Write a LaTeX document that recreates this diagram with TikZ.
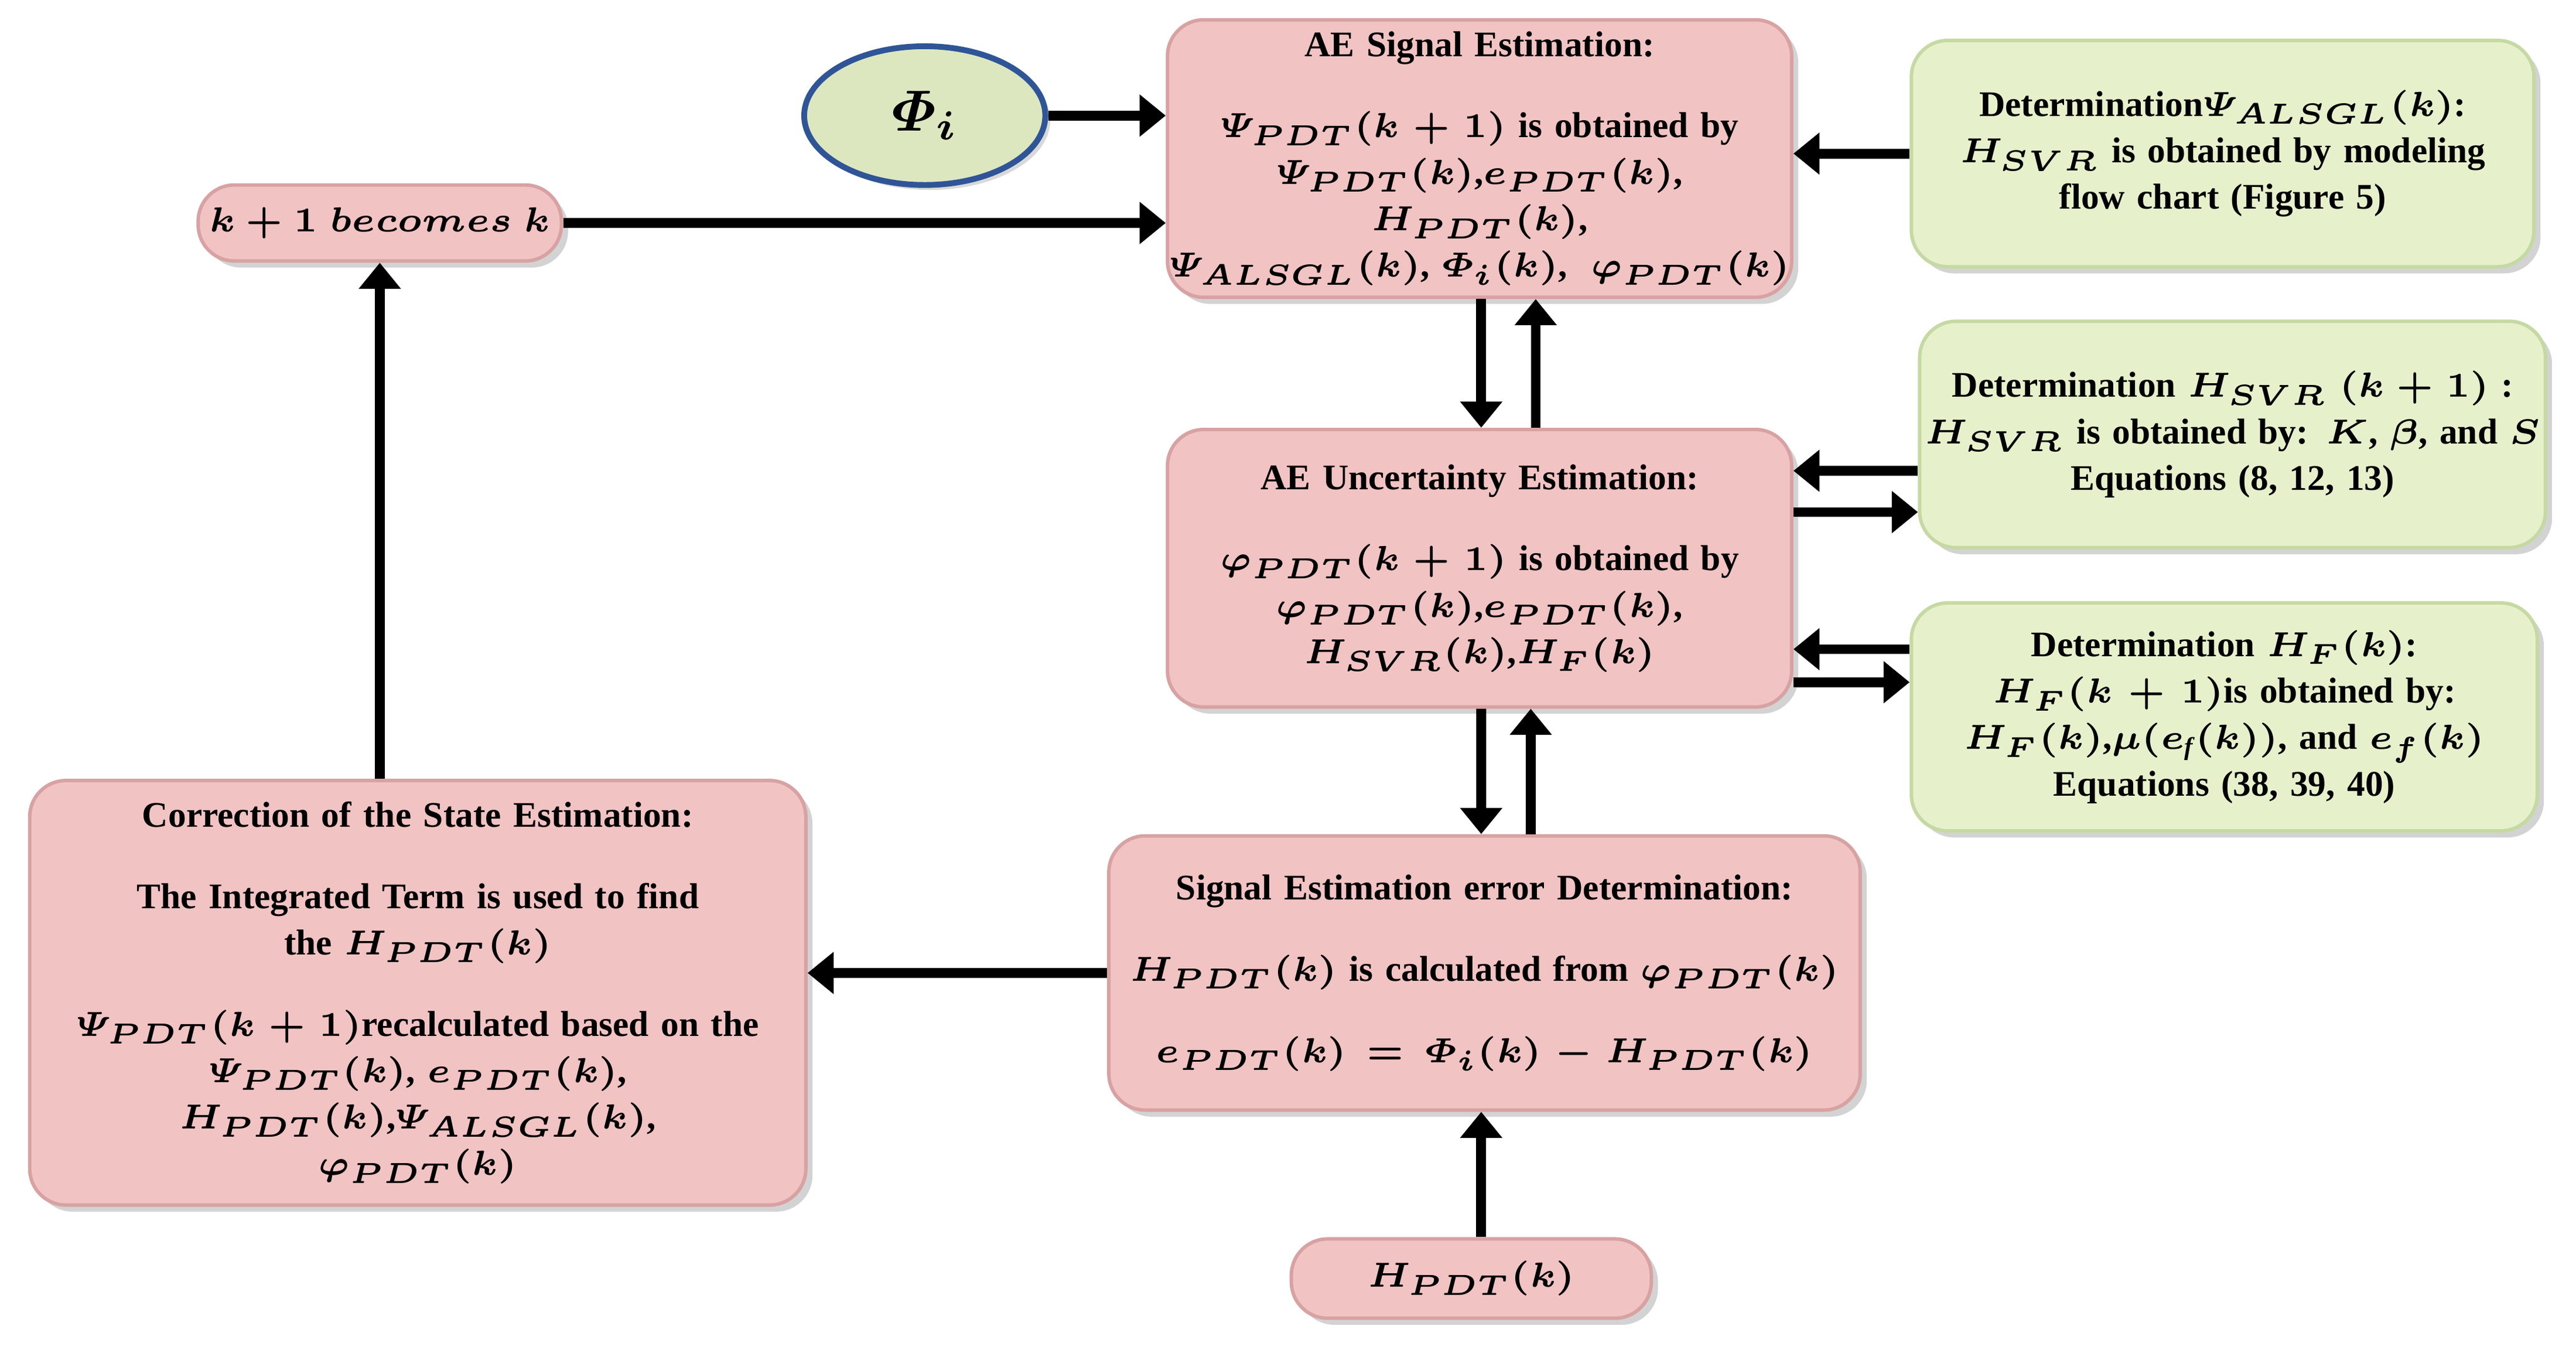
\documentclass[tikz,border=0pt]{standalone}
\usepackage{amsmath,bm}
\usepackage{fontspec}
\setmainfont{Liberation Serif}
\usetikzlibrary{shadows,arrows.meta,calc,shapes.geometric}
\definecolor{pinkf}{HTML}{F2C3C3}
\definecolor{pinkd}{HTML}{D8A2A2}
\definecolor{greenf}{HTML}{E6F1CC}
\definecolor{greend}{HTML}{C6D9A3}
\definecolor{ellf}{HTML}{DCE7C0}
\definecolor{elld}{HTML}{2F5597}
\newcommand{\bb}[1]{\bm{#1}}
\begin{document}
\begin{tikzpicture}[
 box/.style={rectangle,rounded corners=0.22cm,draw=#1d,fill=#1f,line width=0.6pt,
   drop shadow={shadow xshift=0.04cm,shadow yshift=-0.04cm,opacity=0.35},
   align=center,font=\fontsize{6.2}{8}\selectfont\bfseries,inner sep=0pt},
 arr/.style={line width=1.7pt,-{Triangle[length=4.5pt,width=7pt]}}]
\useasboundingbox (0,0) rectangle (15.6,8.17);
\node[ellipse,draw=elld,fill=ellf,line width=1pt,minimum width=1.46cm,minimum height=0.84cm,
  drop shadow={shadow xshift=0.03cm,shadow yshift=-0.03cm,opacity=0.3}] (ell) at (5.60,7.47) {$\bb{\varPhi_i}$};
\node[box=pink,text width=3.78cm,minimum height=1.68cm] (sig) at (8.96,7.21)
 {AE Signal Estimation:\\[6pt]
 $\bb{\varPsi}_{\bb{PDT}}\bb{(k+1)}$ is obtained by\\
 $\bb{\varPsi}_{\bb{PDT}}\bb{(k)}$,$\bb{e}_{\bb{PDT}}\bb{(k)}$, $\bb{H}_{\bb{PDT}}\bb{(k)}$,\\
 $\bb{\varPsi}_{\bb{ALSGL}}\bb{(k)}$, $\bb{\varPhi}_{\bb{i}}\bb{(k)}$, \ $\bb{\varphi}_{\bb{PDT}}\bb{(k)}$};
\node[box=green,text width=3.77cm,minimum height=1.37cm] (psi) at (13.46,7.24)
 {Determination$\bb{\varPsi}_{\bb{ALSGL}}\bb{(k)}$:\\
 $\bb{H}_{\bb{SVR}}$ is obtained by modeling\\ flow chart (Figure 5)};
\node[box=pink,text width=2.2cm,minimum height=0.46cm] (kk) at (2.30,6.82)
 {$\bb{k+1}$ $\bb{becomes}$ $\bb{k}$};
\node[box=pink,text width=3.78cm,minimum height=1.68cm] (unc) at (8.96,4.73)
 {AE Uncertainty Estimation:\\[6pt]
 $\bb{\varphi}_{\bb{PDT}}\bb{(k+1)}$ is obtained by\\
 $\bb{\varphi}_{\bb{PDT}}\bb{(k)}$,$\bb{e}_{\bb{PDT}}\bb{(k)}$, $\bb{H}_{\bb{SVR}}\bb{(k)}$,$\bb{H}_{\bb{F}}\bb{(k)}$};
\node[box=green,text width=3.79cm,minimum height=1.37cm] (svr) at (13.52,5.54)
 {Determination $\bb{H}_{\bb{SVR}}$ $\bb{(k+1)}$ :\\
 $\bb{H}_{\bb{SVR}}$ is obtained by: $\bb{K}$, $\bb{\beta}$, and $\bb{S}$\\ Equations (8, 12, 13)};
\node[box=green,text width=3.79cm,minimum height=1.38cm] (hf) at (13.47,3.83)
 {Determination $\bb{H}_{\bb{F}}\bb{(k)}$:\\
 $\bb{H}_{\bb{F}}\bb{(k+1)}$is obtained by:\\
 $\bb{H}_{\bb{F}}\bb{(k)}$,$\bb{\mu(e_{\mathit{f}}(k))}$, and $\bb{e}_{\bb{f}}\bb{(k)}$\\
 Equations (38, 39, 40)};
\node[box=pink,text width=4.7cm,minimum height=2.57cm] (corr) at (2.53,2.16)
 {Correction of the State Estimation:\\[6pt]
 The Integrated Term is used to find\\ the $\bb{H}_{\bb{PDT}}\bb{(k)}$\\[6pt]
 $\bb{\varPsi}_{\bb{PDT}}\bb{(k+1)}$recalculated based on the\\
 $\bb{\varPsi}_{\bb{PDT}}\bb{(k)}$, $\bb{e}_{\bb{PDT}}\bb{(k)}$, $\bb{H}_{\bb{PDT}}\bb{(k)}$,$\bb{\varPsi}_{\bb{ALSGL}}\bb{(k)}$,\\
 $\bb{\varphi}_{\bb{PDT}}\bb{(k)}$};
\node[box=pink,text width=4.55cm,minimum height=1.66cm] (err) at (8.99,2.28)
 {Signal Estimation error Determination:\\[6pt]
 $\bb{H}_{\bb{PDT}}\bb{(k)}$ is calculated from $\bb{\varphi}_{\bb{PDT}}\bb{(k)}$\\[6pt]
 $\bb{e}_{\bb{PDT}}\bb{(k)}\bb{=}\bb{\varPhi}_{\bb{i}}\bb{(k)}\bb{-}\bb{H}_{\bb{PDT}}\bb{(k)}$};
\node[box=pink,text width=2.18cm,minimum height=0.48cm] (hp) at (8.91,0.43)
 {$\bb{H}_{\bb{PDT}}\bb{(k)}$};
% arrows
\draw[arr] (ell.east) -- (sig.west|-ell.east);
\draw[arr] (kk.east) -- (sig.west|-kk.east);
\draw[arr] (psi.west) -- (sig.east|-psi.west);
\draw[arr] ([xshift=0.01cm]sig.south) -- ([xshift=0.01cm]unc.north);
\draw[arr] ([xshift=0.34cm]unc.north) -- ([xshift=0.34cm]sig.south);
\draw[arr] ($(svr.west)+(0,-0.22)$) -- ($(unc.east|-svr.west)+(0,-0.22)$);
\draw[arr] ($(unc.east|-svr.west)+(0,-0.47)$) -- ($(svr.west)+(0,-0.47)$);
\draw[arr] ($(hf.west)+(0,0.41)$) -- ($(unc.east|-hf.west)+(0,0.41)$);
\draw[arr] ($(unc.east|-hf.west)+(0,0.21)$) -- ($(hf.west)+(0,0.21)$);
\draw[arr] ([xshift=0.01cm]unc.south) -- ([xshift=-0.02cm]err.south|-err.north);
\draw[arr] ([xshift=0.28cm]err.north) -- ([xshift=0.31cm]unc.south);
\draw[arr] (err.west) -- (corr.east|-err.west);
\draw[arr] ([xshift=0.06cm]hp.north) -- ([xshift=0.06cm]hp.north|-err.south);
\draw[arr] (kk.south|-corr.north) -- (kk.south);
\end{tikzpicture}
\end{document}
